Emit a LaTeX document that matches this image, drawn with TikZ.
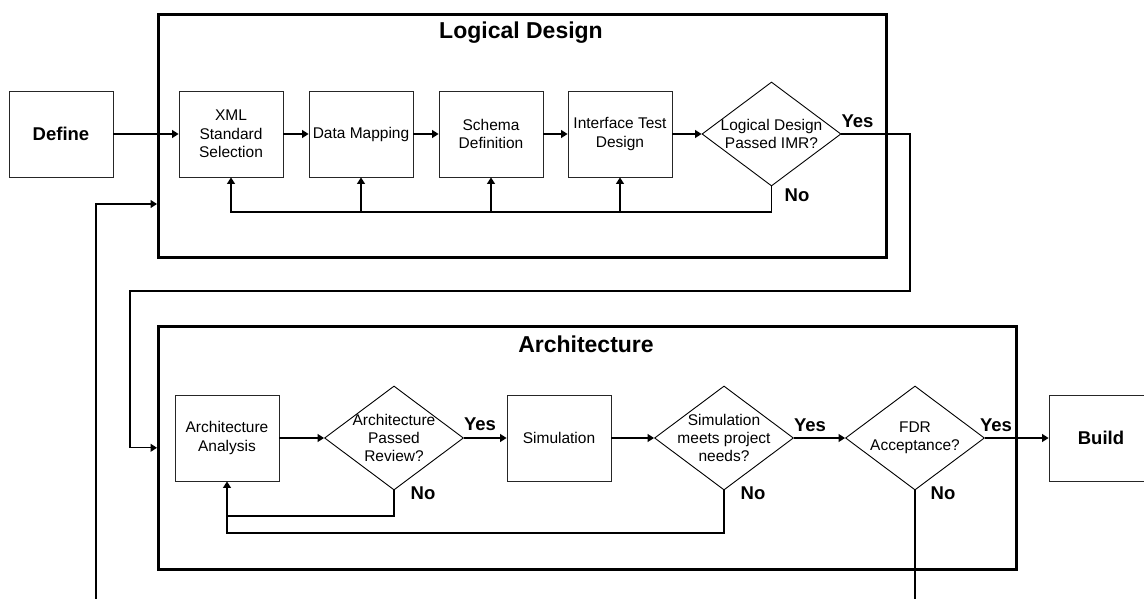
\documentclass[tikz,border=0pt]{standalone}
\usepackage{fontspec}
\setmainfont{Liberation Sans}
\usetikzlibrary{shapes.geometric,arrows.meta}
\begin{document}
\begin{tikzpicture}[x=1pt,y=-1pt,
  box/.style={draw=black!85,line width=0.9pt,fill=white,minimum width=104pt,minimum height=86pt,inner sep=0pt,align=center,font=\fontsize{15.5}{18.3}\selectfont},
  bigbox/.style={box,font=\fontsize{18.5}{22}\selectfont\bfseries},
  group/.style={draw,line width=2.6pt,inner sep=0pt},
  dec/.style={draw=black,line width=0.9pt,shape=diamond,minimum width=139pt,minimum height=104pt,inner sep=0pt,fill=white},
  dtext/.style={align=center,font=\fontsize{15.5}{18.3}\selectfont,inner sep=0pt},
  lbl/.style={font=\fontsize{18.5}{22}\selectfont\bfseries,inner sep=0pt},
  title/.style={font=\fontsize{23}{27}\selectfont\bfseries,inner sep=0pt},
  conn/.style={line width=1.1pt,-{Triangle[length=6.5pt,width=8pt]}},
  wire/.style={line width=1.1pt},
]
\useasboundingbox (0,0) rectangle (1144,599);
\clip (0,0) rectangle (1144,599);

% containers
\node[group,minimum width=728pt,minimum height=243pt,anchor=north west] (logbox) at (157,13) {};
\node[group,minimum width=858pt,minimum height=243pt,anchor=north west] (archbox) at (157,325) {};
\node[title] (ldtitle) at (521,33) {Logical Design};
\node[title] (artitle) at (586,344) {Architecture};

% logical design row
\node[bigbox] (define) at (61,134) {Define};
\node[box] (xml) at (231,134) {XML\\Standard\\Selection};
\node[box] (dm) at (361,134) {Data Mapping};
\node[box] (schema) at (491,134) {Schema\\Definition};
\node[box] (itd) at (620,134) {Interface Test\\Design};
\node[dec,label={[dtext]center:{Logical Design\\Passed IMR?}}] (ldp) at (771.5,134) {};
\node[lbl] (ldyes) at (857.5,121) {Yes};
\node[lbl] (ldno) at (797,195) {No};

% architecture row
\node[box] (aa) at (227,438) {Architecture\\Analysis};
\node[dec,label={[dtext]center:{Architecture\\Passed\\Review?}}] (apr) at (394,438) {};
\node[box] (sim) at (559,438) {Simulation};
\node[dec,label={[dtext]center:{Simulation\\meets project\\needs?}}] (smp) at (724,438) {};
\node[dec,label={[dtext]center:{FDR\\Acceptance?}}] (fdr) at (915,438) {};
\node[bigbox] (build) at (1101,438) {Build};
\node[lbl] (apryes) at (480,424) {Yes};
\node[lbl] (aprno) at (423,493) {No};
\node[lbl] (smpyes) at (810,425) {Yes};
\node[lbl] (smpno) at (753,493) {No};
\node[lbl] (fdryes) at (996,425) {Yes};
\node[lbl] (fdrno) at (943,493) {No};

% connectors: logical design
\draw[conn] (define.east) -- (xml.west);
\draw[conn] (xml.east) -- (dm.west);
\draw[conn] (dm.east) -- (schema.west);
\draw[conn] (schema.east) -- (itd.west);
\draw[conn] (itd.east) -- (ldp.west);
\draw[conn] (ldp.south) |- (xml.south |- 0,212) -- (xml.south);
\foreach \n in {dm,schema,itd} \draw[conn] (\n.south |- 0,212) -- (\n.south);

% yes route from logical design to architecture
\coordinate (ry1) at (910,291);
\coordinate (ry2) at (130,291);
\draw[conn] (ldp.east) -| (ry1) -- (ry2) |- (archbox.west);

% loop back into logical design
\coordinate (lb) at (96,599);
\draw[conn] (lb) |- (logbox.west |- 0,204);

% connectors: architecture
\draw[conn] (aa.east) -- (apr.west);
\draw[conn] (apr.east) -- (sim.west);
\draw[conn] (sim.east) -- (smp.west);
\draw[conn] (smp.east) -- (fdr.west);
\draw[conn] (fdr.east) -- (build.west);
\draw[conn] (apr.south) |- (aa.south |- 0,516) -- (aa.south);
\draw[wire] (smp.south) |- (aa.south |- 0,533) -- (aa.south |- 0,516);
\coordinate (fb) at (915,599);
\draw[wire] (fdr.south) -- (fb);
\end{tikzpicture}
\end{document}
